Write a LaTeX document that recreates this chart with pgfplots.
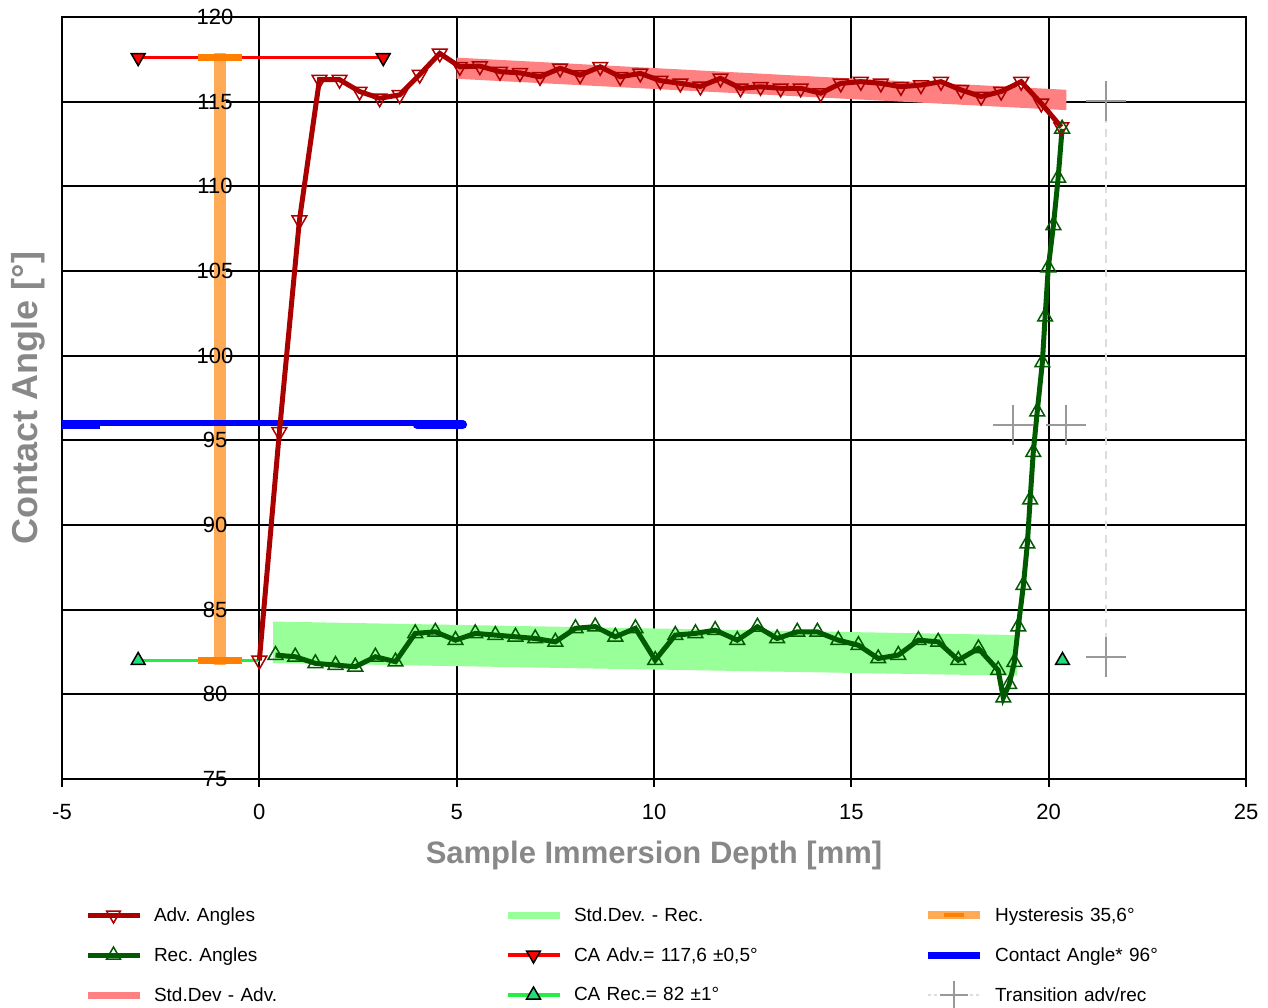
\documentclass[border=0pt]{standalone}
\usepackage{fontspec}
\setmainfont{Liberation Sans}
\usepackage{pgfplots}
\pgfplotsset{compat=1.18}
\definecolor{advc}{HTML}{AA0000}
\definecolor{recc}{HTML}{005A00}
\definecolor{stdadv}{HTML}{FF8080}
\definecolor{stdrec}{HTML}{99FF99}
\definecolor{caadv}{HTML}{FF0000}
\definecolor{carec}{HTML}{22EE44}
\definecolor{carecm}{HTML}{22DD77}
\definecolor{hystl}{HTML}{FFAA55}
\definecolor{hystd}{HTML}{FF8000}
\definecolor{cablue}{HTML}{0000FF}
\definecolor{trans}{HTML}{999999}
\definecolor{transl}{HTML}{DDDDDD}
\definecolor{lab}{HTML}{888888}
\frenchspacing
\begin{document}
\begin{tikzpicture}
\begin{axis}[
  name=ax, set layers,
  scale only axis, width=1184pt, height=762pt,
  xmin=-5, xmax=25, ymin=75, ymax=120,
  xtick={-5,0,...,25}, ytick={75,80,...,120},
  grid=major, major grid style={black, line width=2pt},
  axis line style={black, line width=2pt},
  tick align=outside, major tick length=8pt,
  xtick style={black, line width=2pt}, ytick style={draw=none},
  xtick pos=bottom, ytick pos=left,
  /pgf/number format/assume math mode=true,
  ticklabel style={font=\fontsize{22}{26}\selectfont},
  yticklabel style={/pgfplots/on layer=axis foreground, anchor=center, xshift=161pt},
  xticklabel style={yshift=-14pt},
  xlabel={Sample Immersion Depth [mm]}, ylabel={Contact Angle [°]},
  every axis x label/.style={at={(axis description cs:0.5,-0.1005)}, anchor=center, font=\bfseries\fontsize{31}{36}\selectfont, text=lab},
  every axis y label/.style={at={(axis description cs:-0.0287,0.5)}, rotate=90, anchor=center, font=\bfseries\fontsize{36}{40}\selectfont, text=lab},
  legend image code/.code={\draw[mark repeat=2,mark phase=2,#1] plot coordinates {(0pt,0pt) (26pt,0pt) (52pt,0pt)};},
  legend cell align=left,
  legend style={draw=none, fill=none, inner sep=0pt, outer sep=0pt,
    at={(axis description cs:0,0)}, anchor=north west, xshift=22pt, yshift=-116pt,
    legend columns=3, font=\fontsize{19}{23}\selectfont,
    nodes={inner sep=0pt, minimum height=40pt, text width=330pt, align=left},
    /tikz/every odd column/.append style={column sep=11pt},
    /tikz/every even column/.append style={column sep=20pt}},
]
% bands
\addplot[draw=none, fill=stdrec, forget plot] coordinates {(0.35,84.3) (19.2,83.5) (19.2,81.1) (0.35,81.85)} -- cycle;
\addplot[draw=none, fill=stdadv, forget plot] coordinates {(5.0,117.6) (20.45,115.7) (20.45,114.5) (5.0,116.35)} -- cycle;
% hysteresis bar
\addplot[hystl, line width=12pt, forget plot] coordinates {(-1.0,81.75) (-1.0,117.9)};
% contact angle
\addplot[cablue, line width=6pt, line cap=round, forget plot] coordinates {(-5,96) (5.15,96)};
\addplot[cablue, line width=9pt, forget plot] coordinates {(-5,95.92) (-4.04,95.92)};
\addplot[cablue, line width=9pt, line cap=round, forget plot] coordinates {(4.0,95.92) (5.15,95.92)};
% CA lines
\addplot[caadv, line width=3pt, forget plot] coordinates {(-3.07,117.6) (3.14,117.6)};
\addplot[carec, line width=3pt, forget plot] coordinates {(-3.07,82) (0,82)};
% hysteresis caps
\addplot[hystd, line width=7pt, forget plot] coordinates {(-1.55,117.6) (-0.43,117.6)};
\addplot[hystd, line width=7pt, forget plot] coordinates {(-1.55,82) (-0.43,82)};
% transition
\addplot[transl, dash pattern=on 8pt off 6pt, line width=2pt, forget plot] coordinates {(21.46,115.04) (21.46,82.2)};
\addplot[trans, only marks, mark=+, mark size=20pt, line width=2pt, forget plot] coordinates {(21.46,115.04) (21.46,82.2) (19.1,95.9) (20.45,95.9)};
% advancing
\addplot[advc, line width=5pt, mark=triangle, mark size=8.5pt, mark options={rotate=180, line width=1.5pt}, forget plot] coordinates {
(0,82.0) (0.508,95.5) (1.016,108.0) (1.524,116.3) (2.032,116.3) (2.54,115.6) (3.048,115.2) (3.556,115.4) (4.064,116.6) (4.572,117.85)
(5.08,117.06) (5.588,117.1) (6.096,116.77) (6.604,116.7) (7.112,116.47) (7.62,116.97) (8.128,116.57) (8.636,117.06) (9.144,116.47) (9.652,116.67)
(10.16,116.24) (10.668,116.08) (11.176,115.9) (11.684,116.38) (12.192,115.79) (12.7,115.88) (13.208,115.79) (13.716,115.79) (14.224,115.5) (14.732,116.08)
(15.24,116.18) (15.748,116.08) (16.256,115.88) (16.764,115.98) (17.272,116.18) (17.78,115.69) (18.288,115.3) (18.796,115.6) (19.304,116.18) (19.812,114.9) (20.32,113.5)};
% receding
\addplot[recc, line width=5pt, mark=triangle, mark size=8.5pt, mark options={line width=1.5pt}, forget plot] coordinates {
(0.41,82.32) (0.91,82.22) (1.42,81.83) (1.93,81.73) (2.43,81.63) (2.94,82.22) (3.45,81.93) (3.95,83.6) (4.46,83.69) (4.97,83.2)
(5.47,83.6) (5.98,83.5) (6.49,83.4) (6.99,83.3) (7.50,83.1) (8.01,83.9) (8.51,84.0) (9.02,83.4) (9.53,83.9) (10.03,82.02)
(10.54,83.5) (11.05,83.6) (11.55,83.79) (12.11,83.2) (12.62,83.99) (13.12,83.3) (13.63,83.69) (14.14,83.69) (14.67,83.2) (15.18,82.9)
(15.68,82.12) (16.19,82.32) (16.70,83.2) (17.20,83.1) (17.71,82.02) (18.22,82.71) (18.72,81.43) (18.85,79.8) (19.0,80.6) (19.13,81.9)
(19.23,84.0) (19.36,86.45) (19.46,88.9) (19.53,91.5) (19.61,94.3) (19.71,96.7) (19.84,99.6) (19.91,102.3) (19.99,105.2) (20.12,107.7) (20.24,110.5) (20.34,113.4)};
% CA markers
\addplot[only marks, mark=triangle*, mark size=8pt, mark options={rotate=180, fill=caadv, draw=black, line width=1.5pt}, forget plot] coordinates {(-3.07,117.6) (3.14,117.6)};
\addplot[only marks, mark=triangle*, mark size=8pt, mark options={fill=carecm, draw=black, line width=1.5pt}, forget plot] coordinates {(-3.07,82) (20.35,82)};
% legend
\addlegendimage{advc, line width=5pt, mark=triangle, mark size=8pt, mark options={rotate=180, line width=1.5pt}}
\addlegendentry{Adv. Angles}
\addlegendimage{stdrec, line width=7pt}
\addlegendentry{Std.Dev. - Rec.}
\addlegendimage{legend image code/.code={\draw[hystl, line width=8pt] (0pt,0pt)--(52pt,0pt); \draw[hystd, line width=4pt] (16pt,0pt)--(36pt,0pt);}}
\addlegendentry{Hysteresis 35,6°}
\addlegendimage{recc, line width=5pt, mark=triangle, mark size=8pt, mark options={line width=1.5pt}}
\addlegendentry{Rec. Angles}
\addlegendimage{caadv, line width=4pt, mark=triangle*, mark size=8pt, mark options={rotate=180, fill=caadv, draw=black, line width=1.5pt}}
\addlegendentry{CA Adv.= 117,6 ±0,5°}
\addlegendimage{cablue, line width=7pt}
\addlegendentry{Contact Angle* 96°}
\addlegendimage{stdadv, line width=7pt}
\addlegendentry{Std.Dev - Adv.}
\addlegendimage{carec, line width=4pt, mark=triangle*, mark size=8pt, mark options={fill=carecm, draw=black, line width=1.5pt}}
\addlegendentry{CA Rec.= 82 ±1°}
\addlegendimage{transl, dashed, line width=2pt, mark=+, mark size=14pt, mark options={trans, solid}}
\addlegendentry{Transition adv/rec}
\end{axis}
\pgfresetboundingbox
\path ([xshift=-62pt,yshift=17pt]ax.north west) rectangle ([xshift=22pt,yshift=-228pt]ax.south east);
\end{tikzpicture}
\end{document}
